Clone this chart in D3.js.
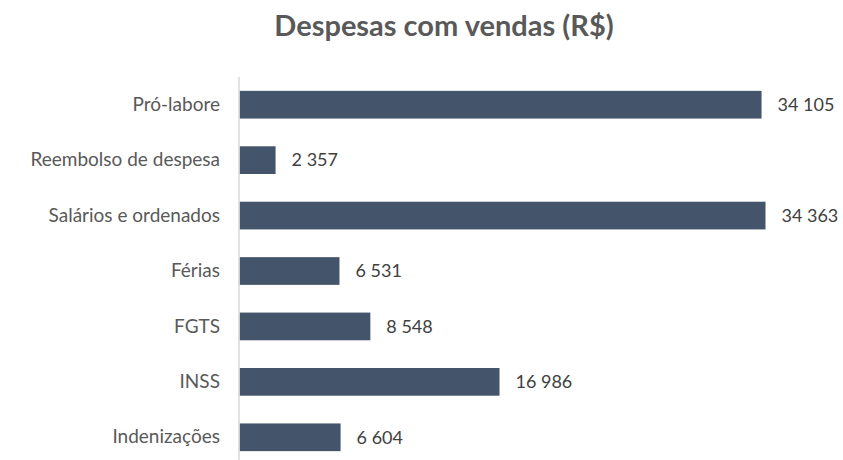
<!DOCTYPE html>
<html>
<head>
<meta charset="utf-8">
<script src="https://cdn.jsdelivr.net/npm/d3@7"></script>
<style>
  body { margin: 0; background: #fff; }
  text { font-family: Lato, "Open Sans", sans-serif; }
</style>
</head>
<body>
<svg id="chart" width="843" height="460"></svg>
<script>
// categories and values
const categories = ["Pró-labore", "Reembolso de despesa", "Salários e ordenados", "Férias", "FGTS", "INSS", "Indenizações"];
const values = [34105, 2357, 34363, 6531, 8548, 16986, 6604];

const svg = d3.select("#chart");
const width = 843, height = 460;

// number format with space as thousands separator
const ptBR = d3.formatLocale({ decimal: ",", thousands: " ", grouping: [3], currency: ["R$", ""] });
const fmt = ptBR.format(",d");

const data = categories.map((c, i) => ({ name: c, value: values[i] }));

// x scale
const x = d3.scaleLinear()
    .domain([0, 34363])
    .range([239.5, 765.5]);

// y scale
const y = d3.scaleBand()
    .domain(categories)
    .range([77, 465])
    .paddingInner(0.5)
    .paddingOuter(0.25);

// title
svg.append("text")
    .attr("x", 444)
    .attr("y", 36)
    .attr("text-anchor", "middle")
    .style("font-size", "29px")
    .style("font-weight", "bold")
    .style("fill", "#595959")
    .text("Despesas com vendas (R$)");

// bars
svg.selectAll("rect.bar")
    .data(data)
    .enter().append("rect")
    .attr("class", "bar")
    .attr("x", x(0))
    .attr("y", d => y(d.name))
    .attr("width", d => x(d.value) - x(0))
    .attr("height", y.bandwidth())
    .style("fill", "#44546a");

// left axis
const axis = svg.append("g")
    .attr("transform", "translate(" + (x(0) - 0.5) + ",0)")
    .call(d3.axisLeft(y).tickSize(0).tickPadding(19));
axis.select(".domain")
    .attr("d", "M0,77V460")
    .style("stroke", "#d9d9d9")
    .style("stroke-width", 1.5);
axis.selectAll("text")
    .style("font-size", "19px")
    .style("fill", "#595959")
    .style("font-family", "Lato, 'Open Sans', sans-serif");

// value labels
svg.selectAll("text.val")
    .data(data)
    .enter().append("text")
    .attr("class", "val")
    .attr("x", d => x(d.value) + 16)
    .attr("y", d => y(d.name) + y.bandwidth() / 2)
    .attr("dy", "0.35em")
    .style("font-size", "18px")
    .style("fill", "#404040")
    .text(d => fmt(d.value));
</script>
</body>
</html>
